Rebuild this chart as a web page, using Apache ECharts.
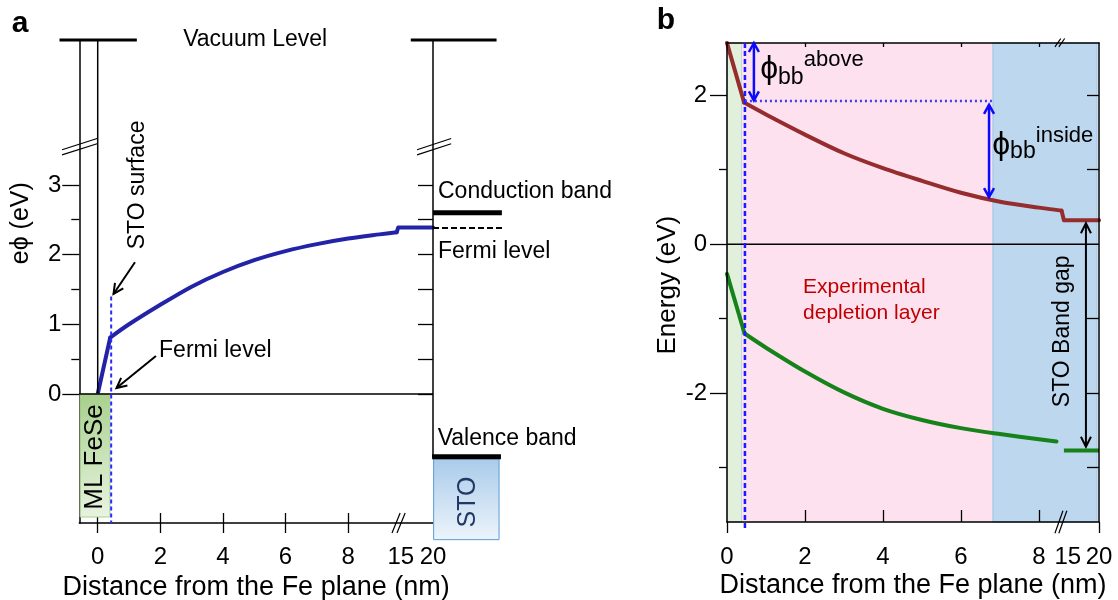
<!DOCTYPE html>
<html><head><meta charset="utf-8">
<script src="https://cdn.jsdelivr.net/npm/echarts@6/dist/echarts.min.js"></script>
<style>html,body{margin:0;padding:0;background:#fff}#c{width:1118px;height:600px}</style>
</head><body><div id="c"></div>
<script>
// ================= DATA =================
// x tick labels (real distance, nm) – both panels use a broken axis 8 // 15 20
const tickValues = [0, 2, 4, 6, 8, 15, 20];
const tickLabels = ['0', '2', '4', '6', '8', '15', '20'];

// Panel a : e*phi (eV) vs distance from the Fe plane (nm)
const aDist = [0, 0.40, 1, 2, 3, 4, 5, 6, 7, 8, 9, 9.55, 15, 20];
const aPhi  = [0, 0.81, 1.00, 1.28, 1.54, 1.75, 1.92, 2.05, 2.15, 2.23, 2.29, 2.32, 2.39, 2.39];
const aYTicks = [0, 1, 2, 3];
const aYMinor = [0.5, 1.5, 2.5];
const aRightTicks = [0, 0.5, 1, 1.5, 2, 2.5, 3];
// levels in panel a (eV)
const aVacuum = 5.08, aCB = 2.60, aFermiSTO = 2.38, aVB = -0.90;
const aSTOsurface = 0.43;   // nm

// Panel b : band edges (eV) vs distance (nm)
const bCBDist = [0, 0.44, 1, 2, 3, 4, 5, 6, 7, 8, 8.58, 15, 20];
const bCB     = [2.70, 1.90, 1.74, 1.47, 1.22, 1.02, 0.85, 0.69, 0.57, 0.49, 0.45, 0.32, 0.32];
const bVBDist = [0, 0.45, 1, 2, 3, 4, 5, 6, 7, 8, 8.45];
const bVB     = [-0.40, -1.20, -1.39, -1.71, -1.99, -2.21, -2.36, -2.47, -2.55, -2.62, -2.65];
const bVBBulkDist = [15, 20];
const bVBBulk     = [-2.77, -2.77];
const bYTicks = [-2, 0, 2];
const bYMinor = [-3, -1, 1];
const bRightTicks = [-3, -2, -1, 1, 2];
const bSTOsurface = 0.46;   // nm
const bFlatBand = 1.92;     // eV
// background regions (axis units): ML FeSe, experimental depletion layer, bulk STO
const bRegionStart = [0, 0.385, 6.82];
const bRegionEnd   = [0.385, 6.82, 9.49];
const bRegionColor = ['#e2efda', '#fde1ef', '#bdd7ee'];
const bRegionBorder = ['#9dc3e6', 'rgba(0,0,0,0)', '#9dc3e6'];

// ================= AXIS BREAK MAPPING =================
const brkA = x => x <= 9.55 ? x : 9.60 + (x - 15) * (10.71 - 9.60) / 5;
const brkB = x => x <= 8.60 ? x : 8.64 + (x - 15) * (9.54 - 8.64) / 5;
const labPosA = tickValues.map(v => v === 15 ? brkA(15) + 0.08 : brkA(v));
const labPosB = tickValues.map(v => v === 15 ? brkB(15) + 0.10 : brkB(v));
const fmt = pos => val => { const i = pos.findIndex(p => Math.abs(p - val) < 1e-6); return i >= 0 ? tickLabels[i] : ''; };

const FONT = "'Liberation Sans', Arial, Helvetica, sans-serif";
const PHI = 'ϕ';
const BLACK = '#000';
const AL = { color: BLACK, width: 1.5 };
const TL = { color: BLACK, width: 1.3 };

const chart = echarts.init(document.getElementById('c'), null, { renderer: 'canvas' });

function xAx(grid, min, max, extra) {
  return Object.assign({
    gridIndex: grid, type: 'value', min: min, max: max, position: 'bottom', z: 4,
    axisLine: { show: false, onZero: false, lineStyle: AL },
    axisTick: { show: false, lineStyle: TL },
    axisLabel: { show: false },
    splitLine: { show: false }
  }, extra);
}
function yAx(grid, min, max, extra) {
  return Object.assign({
    gridIndex: grid, type: 'value', min: min, max: max, position: 'left', z: 4,
    axisLine: { show: false, onZero: false, lineStyle: AL },
    axisTick: { show: false, lineStyle: TL },
    axisLabel: { show: false },
    splitLine: { show: false }
  }, extra);
}
const labStyle = { fontSize: 24, fontFamily: FONT, color: BLACK };

// line pieces: straight drop, smooth band-bending curve, bulk part
function piece(xi, yi, dist, val, map, from, to, color, smooth, z, extra) {
  return Object.assign({
    type: 'line', xAxisIndex: xi, yAxisIndex: yi, z: z, silent: true, clip: false,
    symbol: 'none', smooth: smooth ? 0.3 : false,
    data: dist.slice(from, to).map((d, i) => [map(d), val[from + i]]),
    lineStyle: { color: color, width: 4, join: 'round', cap: 'round' }
  }, extra || {});
}
const BLUE = '#2323a8', RED = '#952c2e', GREEN = '#15821a';

const option = {
  animation: false,
  backgroundColor: '#fff',
  textStyle: { fontFamily: FONT },
  grid: [
    { left: 79.3, top: 40, width: 353.7, height: 483, containLabel: false, outerBoundsMode: 'none' },
    { left: 727, top: 43, width: 372, height: 479, containLabel: false, outerBoundsMode: 'none' }
  ],
  xAxis: [
    xAx(0, -0.588, 10.71, {
      axisLine: { show: true, onZero: false, lineStyle: AL },
      axisTick: { show: true, inside: true, length: 10, customValues: [0, 2, 4, 6, 8], lineStyle: TL },
      axisLabel: Object.assign({ show: true, customValues: labPosA, formatter: fmt(labPosA), margin: 22 }, labStyle)
    }),
    xAx(0, -0.588, 10.71, {
      axisTick: { show: true, inside: false, length: 10, customValues: [0, 2, 4, 6, 8], lineStyle: TL }
    }),
    xAx(1, 0, 9.54, {
      axisLine: { show: true, onZero: false, lineStyle: AL },
      axisTick: { show: true, inside: true, length: 12, customValues: [2, 4, 6, 8], lineStyle: TL },
      axisLabel: Object.assign({ show: true, customValues: labPosB, formatter: fmt(labPosB), margin: 23 }, labStyle)
    }),
    xAx(1, 0, 9.54, {
      axisTick: { show: true, inside: false, length: 11, customValues: [0, 9.54], lineStyle: TL }
    }),
    xAx(1, 0, 9.54, {
      position: 'top',
      axisLine: { show: true, onZero: false, lineStyle: AL },
      axisTick: { show: true, inside: true, length: 4, customValues: [2, 4, 6, 8], lineStyle: TL }
    })
  ],
  yAxis: [
    yAx(0, -1.851, 5.079, {
      axisLine: { show: true, onZero: false, lineStyle: AL },
      axisTick: { show: true, inside: false, length: 17, customValues: aYTicks, lineStyle: TL },
      axisLabel: Object.assign({ show: true, customValues: aYTicks, margin: 18 }, labStyle)
    }),
    yAx(0, -1.851, 5.079, {
      axisTick: { show: true, inside: false, length: 8, customValues: aYMinor, lineStyle: TL }
    }),
    yAx(0, -1.851, 5.079, {
      position: 'right',
      axisTick: { show: true, inside: true, length: 15, customValues: aRightTicks, lineStyle: TL }
    }),
    yAx(1, -3.73, 2.70, {
      axisLine: { show: true, onZero: false, lineStyle: AL },
      axisTick: { show: true, inside: false, length: 17, customValues: bYTicks, lineStyle: TL },
      axisLabel: Object.assign({ show: true, customValues: bYTicks, margin: 20 }, labStyle)
    }),
    yAx(1, -3.73, 2.70, {
      axisTick: { show: true, inside: false, length: 8, customValues: bYMinor, lineStyle: TL }
    }),
    yAx(1, -3.73, 2.70, {
      position: 'right',
      axisLine: { show: true, onZero: false, lineStyle: AL },
      axisTick: { show: true, inside: true, length: 12, customValues: bRightTicks, lineStyle: TL }
    })
  ],
  series: [
    // panel a (index 0 used for coordinate conversion)
    piece(0, 0, aDist, aPhi, brkA, 0, 2, BLUE, false, 3),
    // panel b red conduction band (index 1, carries the background regions)
    piece(2, 3, bCBDist, bCB, brkB, 0, 2, RED, false, 2, {
      markArea: {
        silent: true,
        data: bRegionStart.map((s, i) => [
          { xAxis: s, itemStyle: { color: bRegionColor[i], borderColor: bRegionBorder[i], borderWidth: 1 } },
          { xAxis: bRegionEnd[i] }
        ])
      }
    }),
    piece(0, 0, aDist, aPhi, brkA, 1, 12, BLUE, true, 3),
    piece(0, 0, aDist, aPhi, brkA, 11, 14, BLUE, false, 3),
    piece(2, 3, bCBDist, bCB, brkB, 1, 11, RED, true, 3),
    piece(2, 3, bCBDist, bCB, brkB, 10, 13, RED, false, 3),
    piece(2, 3, bVBDist, bVB, brkB, 0, 2, GREEN, false, 3),
    piece(2, 3, bVBDist, bVB, brkB, 1, 11, GREEN, true, 3),
    piece(2, 3, bVBBulkDist, bVBBulk, brkB, 0, 2, GREEN, false, 3, { lineStyle: { color: GREEN, width: 4, cap: 'butt' } })
  ]
};
chart.setOption(option);

// ================= ANNOTATIONS (positioned through the chart's scales) =================
const pa = (u, y) => chart.convertToPixel({ seriesIndex: 0 }, [u, y]);
const pb = (u, y) => chart.convertToPixel({ seriesIndex: 1 }, [u, y]);

function line(p1, p2, color, w, dash, z) {
  return { type: 'line', z: z || 6, silent: true,
    shape: { x1: p1[0], y1: p1[1], x2: p2[0], y2: p2[1] },
    style: { stroke: color, lineWidth: w, lineDash: dash || null } };
}
function head(tip, from, color, w, len, hw) {
  const dx = tip[0] - from[0], dy = tip[1] - from[1], L = Math.hypot(dx, dy);
  const ux = dx / L, uy = dy / L, bx = tip[0] - ux * len, by = tip[1] - uy * len;
  return { type: 'polyline', z: 7, silent: true,
    shape: { points: [[bx - uy * hw, by + ux * hw], [tip[0], tip[1]], [bx + uy * hw, by - ux * hw]] },
    style: { stroke: color, lineWidth: w, fill: null, lineJoin: 'miter' } };
}
function arrow(p1, p2, color, w, both, len, hw) {
  const els = [line(p1, p2, color, w, null, 7), head(p2, p1, color, w, len, hw)];
  if (both) els.push(head(p1, p2, color, w, len, hw));
  return els;
}
function text(p, str, size, o) {
  o = o || {};
  return { type: 'text', z: 8, silent: true, x: p[0], y: p[1], rotation: o.rot || 0,
    style: { text: str, fontSize: size, fontFamily: o.font || FONT, fontWeight: o.bold ? 'bold' : 'normal',
      fill: o.color || BLACK, align: o.align || 'center', verticalAlign: o.va || 'middle' } };
}
function rect(p1, p2, fill, stroke, z) {
  const x = Math.min(p1[0], p2[0]), y = Math.min(p1[1], p2[1]);
  return { type: 'rect', z: z || 5, silent: true,
    shape: { x: x, y: y, width: Math.abs(p2[0] - p1[0]), height: Math.abs(p2[1] - p1[1]) },
    style: { fill: fill, stroke: stroke, lineWidth: 1 } };
}
const R = Math.PI / 2;
const g = [];

// ---- panel a ----
g.push(text([20, 24], 'a', 30, { bold: true }));
g.push(line(pa(-1.22, aVacuum), pa(1.25, aVacuum), BLACK, 3));
g.push(line(pa(10.0, aVacuum), pa(12.74, aVacuum), BLACK, 3));
g.push(text(pa(5.03, aVacuum), 'Vacuum Level', 23));
g.push(line(pa(0, 0), pa(0, aVacuum), BLACK, 1.5, null, 4));
g.push(line(pa(10.71, aVB), pa(10.71, aVacuum), BLACK, 1.5));
g.push(line(pa(-0.588, 0), pa(10.71, 0), BLACK, 1.5));
// y-axis breaks
[0, 0.075].forEach(d => {
  g.push(line(pa(-1.14, 3.43 + d), pa(-0.02, 3.59 + d), BLACK, 1.2));
  g.push(line(pa(10.2, 3.43 + d), pa(11.29, 3.59 + d), BLACK, 1.2));
});
// x-axis break
[0, 0.16].forEach(d => g.push(line(pa(9.40 + d, -1.994), pa(9.66 + d, -1.707), BLACK, 1.2)));
// ML FeSe box
g.push(rect(pa(-0.56, 0), pa(0.39, -1.765),
  { type: 'linear', x: 0, y: 0, x2: 1, y2: 1, colorStops: [{ offset: 0, color: '#a6cf8a' }, { offset: 1, color: '#eaf4e3' }] },
  '#a9d18e', 5));
g.push(text(pa(-0.086, -0.904), 'ML FeSe', 26, { rot: R }));
// STO surface dashed line
g.push(line(pa(aSTOsurface, 1.40), pa(aSTOsurface, -1.851), '#2b2bff', 2, [4, 3], 7));
// STO bands
g.push(line(pa(10.71, aCB), pa(12.91, aCB), BLACK, 5));
g.push(line(pa(10.71, aFermiSTO), pa(12.97, aFermiSTO), BLACK, 2, [6, 3]));
g.push(line(pa(10.68, aVB), pa(12.88, aVB), BLACK, 5));
g.push(rect(pa(10.73, -0.93), pa(12.82, -2.09),
  { type: 'linear', x: 0, y: 0, x2: 0, y2: 1, colorStops: [{ offset: 0, color: '#a9cbea' }, { offset: 1, color: '#edf4fb' }] },
  '#5b9bd5', 5));
g.push(text(pa(11.83, -1.55), 'STO', 25, { rot: R, color: '#1f3864' }));
g.push(text(pa(10.87, 2.90), 'Conduction band', 23, { align: 'left' }));
g.push(text(pa(10.87, 2.04), 'Fermi level', 23, { align: 'left' }));
g.push(text(pa(10.86, -0.646), 'Valence band', 23, { align: 'left' }));
// labels and arrows
g.push(text(pa(1.27, 3.0), 'STO surface', 23, { rot: R }));
g.push(...arrow(pa(1.19, 1.89), pa(0.505, 1.435), BLACK, 2, false, 10, 5));
g.push(text(pa(1.96, 0.62), 'Fermi level', 23, { align: 'left' }));
g.push(...arrow(pa(1.86, 0.545), pa(0.60, 0.086), BLACK, 2, false, 10, 5));
g.push(text(pa(-2.45, 2.45), 'e' + PHI + ' (eV)', 25, { rot: R }));
g.push(text(pa(5.06, -2.77), 'Distance from the Fe plane (nm)', 27));

// ---- panel b ----
g.push(text([666, 21], 'b', 30, { bold: true }));
g.push(line(pb(0, 0), pb(9.54, 0), BLACK, 1.5));
g.push(line(pb(bSTOsurface, 2.70), pb(bSTOsurface, -3.84), '#1a1aff', 2.5, [5, 3], 7));
g.push(line(pb(bSTOsurface, bFlatBand), pb(6.87, bFlatBand), '#3d3df0', 2.5, [2, 3], 7));
g.push(...arrow(pb(0.69, 2.70), pb(0.69, 1.93), '#0a0aff', 2.5, true, 9, 5));
g.push(...arrow(pb(6.72, 1.87), pb(6.72, 0.63), '#0a0aff', 2.5, true, 9, 5));
g.push(...arrow(pb(9.205, 0.28), pb(9.205, -2.72), BLACK, 2, true, 10, 5));
g.push(text(pb(1.08, 2.35), PHI, 32));
g.push(text(pb(1.31, 2.24), 'bb', 23, { align: 'left' }));
g.push(text(pb(1.97, 2.47), 'above', 22, { align: 'left' }));
g.push(text(pb(7.03, 1.33), PHI, 32));
g.push(text(pb(7.26, 1.235), 'bb', 23, { align: 'left' }));
g.push(text(pb(7.92, 1.45), 'inside', 22, { align: 'left' }));
g.push(text(pb(1.95, -0.577), 'Experimental', 21, { align: 'left', color: '#c00000' }));
g.push(text(pb(1.95, -0.926), 'depletion layer', 21, { align: 'left', color: '#c00000' }));
g.push(text(pb(8.62, -1.17), 'STO Band gap', 23, { rot: R }));
g.push(text(pb(-1.51, -0.55), 'Energy (eV)', 26, { rot: R }));
g.push(text(pb(4.77, -4.58), 'Distance from the Fe plane (nm)', 27));
// breaks
[0, 0.10].forEach(d => {
  g.push(line(pb(8.41 + d, -3.88), pb(8.615 + d, -3.58), BLACK, 1.2));
  g.push(line(pb(8.41 + d, 2.648), pb(8.56 + d, 2.76), BLACK, 1.2));
});

chart.setOption({ graphic: { elements: g } });
</script>
</body></html>
